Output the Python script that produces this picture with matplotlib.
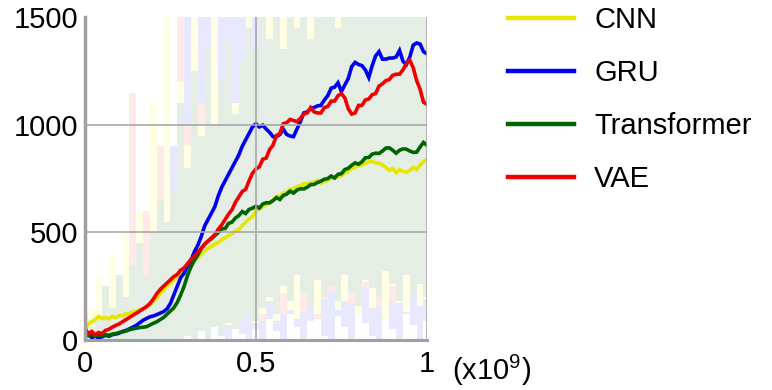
import numpy as np
import matplotlib.pyplot as plt
from matplotlib.lines import Line2D

plt.rcParams['font.family'] = 'Liberation Sans'
plt.rcParams['mathtext.fontset'] = 'custom'
plt.rcParams['mathtext.rm'] = 'Liberation Sans'

# training steps (x1e9), one value every 0.01
steps = np.linspace(0, 1, 101)

cnn = [50, 75, 85, 95, 110, 100, 105, 98, 110, 103,
       114, 112, 122, 124, 132, 133, 142, 146, 157, 163,
       182, 193, 217, 233, 252, 263, 282, 293, 312, 328,
       342, 353, 372, 383, 402, 413, 427, 433, 447, 453,
       467, 473, 487, 493, 507, 513, 532, 548, 562, 573,
       602, 608, 622, 628, 642, 648, 667, 668, 682, 688,
       700, 703, 714, 716, 727, 728, 730, 733, 742, 730,
       737, 743, 752, 753, 760, 763, 777, 783, 797, 803,
       812, 813, 822, 828, 830, 823, 822, 813, 802, 788,
       797, 778, 792, 783, 780, 788, 802, 793, 812, 828,
       840]

gru = [20, 30, 12, 18, 10, 15, 22, 18, 25, 28,
       32, 40, 45, 52, 60, 68, 80, 92, 100, 108,
       112, 118, 125, 132, 145, 170, 210, 250, 290, 310,
       345, 370, 410, 440, 480, 530, 560, 590, 620, 670,
       710, 740, 770, 800, 830, 860, 900, 930, 960, 990,
       1005, 990, 998, 980, 965, 945, 945, 955, 980, 955,
       948, 945, 980, 1015, 1055, 1060, 1075, 1080, 1088, 1090,
       1115, 1135, 1170, 1175, 1195, 1155, 1185, 1215, 1270, 1290,
       1280, 1275, 1255, 1220, 1275, 1320, 1340, 1305, 1305, 1310,
       1310, 1315, 1345, 1295, 1280, 1315, 1370, 1380, 1375, 1340,
       1330]

transformer = [30, 20, 25, 18, 22, 20, 25, 22, 28, 30,
               35, 38, 42, 48, 52, 55, 58, 60, 62, 70,
               78, 85, 95, 105, 120, 135, 150, 175, 210, 250,
               300, 340, 370, 395, 425, 445, 460, 470, 485, 500,
               517, 518, 542, 548, 567, 578, 597, 588, 607, 613,
               622, 613, 632, 638, 637, 648, 662, 653, 672, 678,
               692, 683, 697, 703, 702, 710, 722, 723, 732, 738,
               747, 750, 762, 753, 770, 773, 792, 798, 812, 823,
               817, 828, 847, 848, 864, 868, 867, 878, 892, 893,
               882, 868, 882, 888, 887, 878, 872, 873, 897, 918,
               905]

vae = [55, 30, 40, 25, 35, 30, 45, 50, 60, 68,
       75, 85, 95, 105, 115, 125, 135, 145, 155, 170,
       190, 215, 235, 250, 265, 280, 295, 305, 325, 335,
       355, 375, 390, 410, 425, 445, 460, 475, 490, 515,
       535, 560, 585, 605, 640, 665, 690, 700, 740, 775,
       795, 805, 840, 845, 885, 905, 950, 960, 1005, 1010,
       1025, 1020, 1015, 1030, 1050, 1055, 1080, 1060, 1055, 1055,
       1080, 1085, 1110, 1110, 1135, 1145, 1125, 1075, 1050, 1055,
       1090, 1090, 1115, 1120, 1140, 1145, 1180, 1190, 1205, 1210,
       1230, 1235, 1235, 1255, 1285, 1300, 1265, 1205, 1165, 1105,
       1095]

# min / max spread of the runs, one value every 0.02
band_steps = np.linspace(0, 1, 51)

cnn_lo = [0, 0, 0, 10, 0, 20, 0, 30, 10, 40,
          20, 50, 30, 60, 40, 80, 30, 100, 60, 120,
          90, 70, 150, 100, 130, 80, 120, 180, 90, 220,
          140, 100, 240, 160, 120, 200, 260, 140, 180, 230,
          120, 270, 150, 210, 100, 250, 170, 130, 220, 160,
          190]
cnn_hi = [80, 150, 300, 200, 400, 150, 500, 250, 600, 300,
          1100, 400, 1500, 700, 1200, 900, 1500, 1000, 1300, 1600,
          950, 1400, 1100, 1250, 1500, 1300, 1600, 1550, 1400, 1600,
          1500, 1600, 1450, 1600, 1550, 1600, 1400, 1600, 1300, 1200,
          1400, 1250, 1100, 1300, 1200, 1050, 1150, 1000, 1100, 1200,
          1000]

gru_lo = [0, 0, 0, 0, 0, 0, 0, 0, 0, 0,
          0, 0, 0, 0, 0, 20, 0, 40, 0, 60,
          20, 0, 80, 30, 0, 50, 0, 100, 40, 0,
          120, 60, 0, 90, 150, 20, 0, 110, 60, 0,
          140, 80, 20, 0, 100, 50, 0, 120, 70, 0,
          90]
gru_hi = [120, 60, 200, 100, 250, 180, 420, 300, 550, 350,
          480, 400, 300, 900, 1600, 1600, 1600, 1600, 1600, 1600,
          1600, 1600, 1600, 1600, 1600, 1600, 1600, 1600, 1600, 1600,
          1600, 1600, 1600, 1600, 1600, 1600, 1600, 1600, 1450, 1400,
          1500, 1420, 1380, 1450, 1400, 1430, 1450, 1400, 1440, 1420,
          1450]

transformer_lo = [0, 0, 0, 0, 0, 0, 0, 0, 0, 0,
                  0, 0, 0, 0, 0, 20, 0, 40, 10, 60,
                  30, 80, 50, 100, 120, 90, 150, 200, 120, 250,
                  180, 300, 220, 160, 280, 200, 250, 180, 300, 220,
                  160, 280, 240, 200, 320, 260, 180, 300, 220, 260,
                  200]
transformer_hi = [30, 60, 100, 250, 150, 300, 200, 350, 450, 300,
                  500, 650, 550, 700, 1100, 800, 1250, 950, 1350, 1000,
                  1200, 1400, 1050, 1300, 1450, 1350, 1500, 1400, 1600, 1350,
                  1550, 1450, 1600, 1400, 1600, 1500, 1600, 1450, 1600, 1600,
                  1600, 1600, 1600, 1600, 1600, 1600, 1600, 1600, 1600, 1600,
                  1600]

vae_lo = [0, 0, 0, 10, 0, 20, 30, 0, 40, 20,
          60, 80, 50, 100, 70, 120, 90, 150, 110, 80,
          200, 130, 160, 100, 220, 140, 90, 180, 250, 120,
          170, 210, 130, 260, 100, 190, 230, 150, 280, 170,
          120, 240, 200, 160, 290, 180, 230, 140, 250, 190,
          210]
vae_hi = [100, 80, 150, 250, 200, 300, 350, 1150, 500, 600,
          1050, 900, 700, 550, 1500, 1000, 900, 1100, 800, 950,
          1000, 850, 1100, 900, 1050, 1200, 950, 1100, 1000, 1150,
          900, 1050, 1200, 1000, 1100, 950, 1200, 1050, 1150, 1000,
          1100, 1200, 1050, 1150, 1250, 1100, 1200, 1150, 1050, 1200,
          1100]

names = ['CNN', 'GRU', 'Transformer', 'VAE']
means = [cnn, gru, transformer, vae]
line_colors = ['#e6e600', '#0000f0', '#006400', '#f00000']

# pale spread areas, drawn bottom to top
bands = [(gru_lo, gru_hi, '#e8e8ff'),
         (vae_lo, vae_hi, '#ffe9e9'),
         (cnn_lo, cnn_hi, '#ffffe4'),
         (transformer_lo, transformer_hi, '#e4eee4')]

fig = plt.figure(figsize=(7.72, 3.9), dpi=100)
ax = fig.add_axes([0.110, 0.128, 0.443, 0.828])

for lo, hi, c in bands:
    ax.fill_between(band_steps, lo, hi, step='mid', color=c, lw=0)

for y, c in zip(means, line_colors):
    ax.plot(steps, y, color=c, lw=2.6, solid_joinstyle='miter')

ax.set_xlim(0, 1)
ax.set_ylim(0, 1500)
ax.set_xticks([0, 0.5, 1])
ax.set_xticklabels(['0', '0.5', '1'])
ax.set_yticks([0, 500, 1000, 1500])
ax.tick_params(length=0, labelsize=21)
ax.tick_params(axis='x', pad=7)
ax.tick_params(axis='y', pad=5)

ax.grid(True, color='#a8a8a8', lw=1.2)
ax.xaxis.get_gridlines()[0].set_visible(False)
ax.yaxis.get_gridlines()[0].set_visible(False)
ax.yaxis.get_gridlines()[-1].set_visible(False)
ax.set_axisbelow(False)

for s in ['top', 'right']:
    ax.spines[s].set_visible(False)
ax.spines['left'].set_color('#a0a0a0')
ax.spines['left'].set_linewidth(2.5)
ax.spines['bottom'].set_color('#a0a0a0')
ax.spines['bottom'].set_linewidth(2.2)

ax.text(1.073, -0.093, r'(x10$^9$)', transform=ax.transAxes,
        fontsize=21, ha='left', va='center')

handles = [Line2D([0], [0], color=c, lw=3.2) for c in line_colors]
fig.legend(handles, names, loc='upper left', bbox_to_anchor=(0.658, 0.985),
           frameon=False, fontsize=21, handlelength=2.25, handletextpad=0.7,
           labelspacing=0.86, borderpad=0.0, borderaxespad=0.0)

fig.savefig('out.png', dpi=100)
